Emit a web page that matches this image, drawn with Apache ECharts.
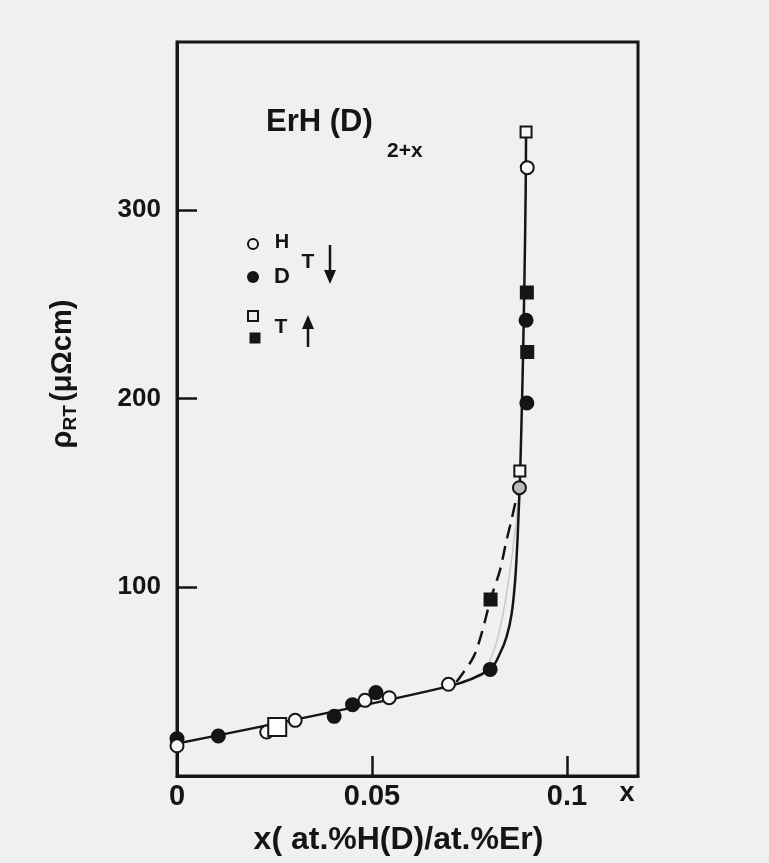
<!DOCTYPE html>
<html><head><meta charset="utf-8">
<script src="https://cdn.jsdelivr.net/npm/echarts@6/dist/echarts.min.js"></script>
<style>html,body{margin:0;padding:0;background:#f1f0f1;}#c{width:769px;height:863px;}</style>
</head><body><div id="c"></div>
<script>
// tick labels
const xTickLabels = ['0', '0.05', '0.1'];
const yTickLabels = ['100', '200', '300'];

// data points  [x, rho]
const hOpenCircle = [[0,16],[0.023,23.3],[0.0303,29.5],[0.0482,40.1],[0.0544,41.5],[0.0696,48.6],[0.0898,322.4]];
const hOpenCircleGray = [[0.0878,152.8]];
const dFilledCircle = [[0,19.8],[0.0106,21.2],[0.0403,31.6],[0.045,37.8],[0.051,44.2],[0.0803,56.5],[0.0897,197.7],[0.0895,241.5]];
const tUpOpenSquare = [[0.0879,161.6],[0.0895,341.3]];
const tUpOpenSquareLarge = [[0.0257,26]];
const tUpFilledSquare = [[0.0804,93.6],[0.0898,224.7],[0.0897,256.2]];

// drawn curves
const solidCurve = [[0,17.2],[0.0696,47.5],[0.0803,56.5],[0.0828,64.9],[0.0845,73.7],[0.0858,86],[0.0867,103.7],[0.0873,125],[0.0876,140],[0.0879,155],[0.0883,185],[0.0887,220],[0.0891,265],[0.0894,310],[0.0895,341]];
const dashedCurve = [[0.0716,49.8],[0.0726,52.5],[0.076,63],[0.0781,75.5],[0.0804,93.6],[0.0828,109],[0.0845,125],[0.0858,136],[0.0869,146],[0.0878,152]];
const grayCurve = [[0.0796,58],[0.0818,70],[0.0838,88],[0.0856,112],[0.0869,134],[0.0878,152]];

const FONT = '"Liberation Sans", Arial, sans-serif';
const INK = '#151515';
const BG = '#f1f0f1';

const chart = echarts.init(document.getElementById('c'), null, {renderer: 'canvas'});
const sym = (type, size, fill, z) => ({type: 'scatter', symbol: type, symbolSize: size, z: z || 5,
  itemStyle: {color: fill, opacity: 1, borderColor: INK, borderWidth: 2}});

chart.setOption({
  backgroundColor: BG,
  animation: false,
  grid: {left: 177, right: 131, top: 42, bottom: 87, show: true, borderColor: INK, borderWidth: 3, backgroundColor: 'transparent'},
  xAxis: {
    type: 'value', min: 0, max: 0.1182, interval: 0.05,
    axisLine: {lineStyle: {color: INK, width: 3}},
    axisTick: {inside: true, length: 20, lineStyle: {color: INK, width: 2.5}},
    splitLine: {show: false},
    axisLabel: {color: INK, fontFamily: FONT, fontWeight: 'bold', fontSize: 29, margin: 6, showMaxLabel: false,
      formatter: v => xTickLabels[Math.round(v / 0.05)] || ''},
    name: 'x( at.%H(D)/at.%Er)', nameLocation: 'middle', nameGap: 48,
    nameTextStyle: {color: INK, fontFamily: FONT, fontWeight: 'bold', fontSize: 32, padding: [0, 18, 0, 0]}
  },
  yAxis: {
    type: 'value', min: 0, max: 389, interval: 100,
    axisLine: {lineStyle: {color: INK, width: 3}},
    axisTick: {inside: true, length: 20, lineStyle: {color: INK, width: 2.5}},
    splitLine: {show: false},
    axisLabel: {color: INK, fontFamily: FONT, fontWeight: 'bold', fontSize: 26, margin: 16, showMaxLabel: false,
      formatter: v => (v === 0 ? '' : (yTickLabels[Math.round(v / 100) - 1] || ''))}
  },
  graphic: [
    {type: 'text', x: 266, y: 122, style: {text: 'ErH (D)', font: 'bold 31px ' + FONT, fill: INK, verticalAlign: 'middle'}},
    {type: 'text', x: 387, y: 151, style: {text: '2+x', font: 'bold 21px ' + FONT, fill: INK, verticalAlign: 'middle'}},
    {type: 'text', x: 63, y: 374, rotation: Math.PI / 2,
      style: {text: '{r|ρ}{s|RT} {r|(μΩcm)}', align: 'center', verticalAlign: 'middle', fill: INK,
        rich: {r: {font: 'bold 29px ' + FONT, fill: INK}, s: {font: 'bold 19px ' + FONT, fill: INK, padding: [16, 0, 0, 0]}}}},
    {type: 'text', x: 627, y: 794, style: {text: 'x', font: 'bold 27px ' + FONT, fill: INK, align: 'center', verticalAlign: 'middle'}},
    // legend
    {type: 'circle', shape: {cx: 253, cy: 244, r: 5}, style: {fill: BG, stroke: INK, lineWidth: 2}},
    {type: 'circle', shape: {cx: 253, cy: 277, r: 6}, style: {fill: INK}},
    {type: 'rect', shape: {x: 248, y: 311, width: 10, height: 10}, style: {fill: BG, stroke: INK, lineWidth: 2}},
    {type: 'rect', shape: {x: 249.5, y: 332.5, width: 11, height: 11}, style: {fill: INK}},
    {type: 'text', x: 282, y: 242, style: {text: 'H', font: 'bold 20px ' + FONT, fill: INK, align: 'center', verticalAlign: 'middle'}},
    {type: 'text', x: 282, y: 277, style: {text: 'D', font: 'bold 22px ' + FONT, fill: INK, align: 'center', verticalAlign: 'middle'}},
    {type: 'text', x: 308, y: 262, style: {text: 'T', font: 'bold 21px ' + FONT, fill: INK, align: 'center', verticalAlign: 'middle'}},
    {type: 'text', x: 281, y: 327, style: {text: 'T', font: 'bold 21px ' + FONT, fill: INK, align: 'center', verticalAlign: 'middle'}},
    {type: 'line', shape: {x1: 330, y1: 245, x2: 330, y2: 276}, style: {stroke: INK, lineWidth: 2.5}},
    {type: 'polygon', shape: {points: [[324, 270], [336, 270], [330, 284]]}, style: {fill: INK}},
    {type: 'line', shape: {x1: 308, y1: 347, x2: 308, y2: 323}, style: {stroke: INK, lineWidth: 2.5}},
    {type: 'polygon', shape: {points: [[302, 329], [314, 329], [308, 315]]}, style: {fill: INK}}
  ],
  series: [
    {type: 'line', data: grayCurve, symbol: 'none', smooth: 0.3, z: 1, lineStyle: {color: '#c9c8c9', width: 1.5}},
    {type: 'line', data: dashedCurve, symbol: 'none', smooth: 0.3, z: 2, lineStyle: {color: INK, width: 2.5, type: [14, 8]}},
    {type: 'line', data: solidCurve, symbol: 'none', smooth: 0.3, z: 3, lineStyle: {color: INK, width: 2.5}},
    Object.assign(sym('circle', 13, INK), {data: dFilledCircle}),
    Object.assign(sym('rect', 12, INK), {data: tUpFilledSquare}),
    Object.assign(sym('circle', 13, '#f7f7f7', 6), {data: hOpenCircle}),
    Object.assign(sym('circle', 13, '#bdbcbd', 6), {data: hOpenCircleGray}),
    Object.assign(sym('rect', 11, '#f7f7f7', 6), {data: tUpOpenSquare}),
    Object.assign(sym('rect', 18, '#ffffff', 6), {data: tUpOpenSquareLarge})
  ]
});
</script></body></html>
